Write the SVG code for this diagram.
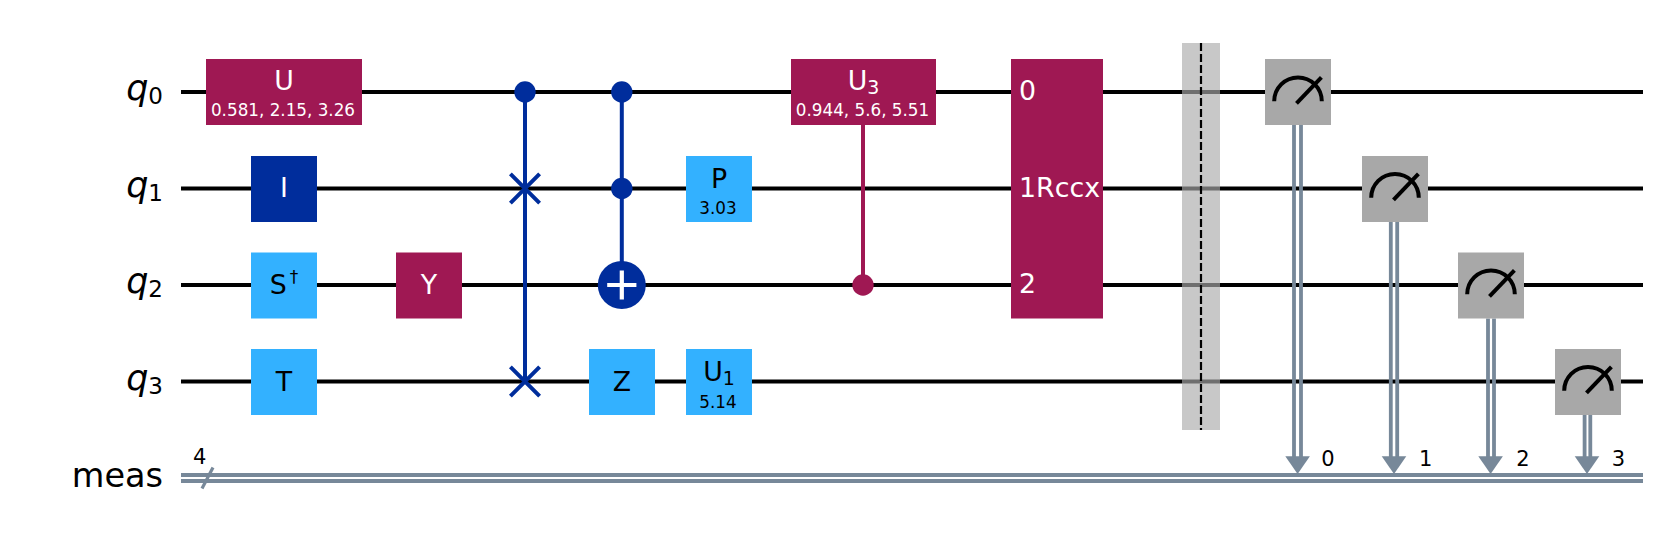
<svg xmlns="http://www.w3.org/2000/svg" width="1666" height="551" viewBox="0 0 1666 551">
<style>
text{font-family:"DejaVu Sans",sans-serif;fill:#000}
text.w{fill:#fff}
.g{font-size:26.8px;text-anchor:middle}
.p{font-size:16.8px;text-anchor:middle}
.s{text-anchor:start}
.r{font-size:33.5px;text-anchor:end}
.rq{font-size:35px;text-anchor:end}
.c{font-size:21px;text-anchor:middle}
.sub{font-size:19px}
.rsub{font-size:23px}
.q{font-style:italic}
.qw{stroke:#000;stroke-width:4.2;fill:none}
.cw{stroke:#778899;stroke-width:3.8;fill:none}
.pur{fill:#9f1853}.blu{fill:#002d9c}.sky{fill:#33b1ff}.gry{fill:#a8a8a8}
.lb{stroke:#002d9c;stroke-width:4;fill:none}
.lp{stroke:#9f1853;stroke-width:4;fill:none}
.m{fill:none;stroke:#000;stroke-width:4}
</style>
<defs>
<g id="meter"><path class="m" d="M-23.8 9.2A23.8 23.8 0 0 1 23.8 9.2"/><path class="m" d="M-1.5 11.4L23.4-14.6"/></g>
<path id="down" d="M-12.3 -17.8H12.3L0 0Z" fill="#778899"/>
<path id="x" class="lb" d="M-14.6-14.6L14.6 14.6M-14.6 14.6L14.6-14.6"/>
</defs>
<rect width="1666" height="551" fill="#fff"/>
<g id="connectors">
<path class="qw" d="M181 92H1643M181 188.5H1643M181 285H1643M181 381.5H1643"/>
<path class="cw" d="M181 475H1643M181 481H1643"/>
<path d="M202 488.5L213 467.5" stroke="#778899" stroke-width="3.2" fill="none"/>
<path class="lb" d="M525 92V381.5M621.8 92V285"/>
<path class="lp" d="M863 92V285"/>
<path class="cw" d="M1294 125V458M1301 125V458M1390.8 222V458M1397.2 222V458M1488 318.5V458M1494 318.5V458M1584.6 415V458M1590.3 415V458"/>
<use href="#down" x="1297.6" y="474"/>
<use href="#down" x="1394" y="474"/>
<use href="#down" x="1490.6" y="474"/>
<use href="#down" x="1587" y="474"/>
</g>
<g id="label-q0"><text class="rq" x="163" y="100"><tspan class="q">q</tspan><tspan class="rsub" dy="4">0</tspan></text></g>
<g id="label-q1"><text class="rq" x="163" y="196.5"><tspan class="q">q</tspan><tspan class="rsub" dy="4">1</tspan></text></g>
<g id="label-q2"><text class="rq" x="163" y="293"><tspan class="q">q</tspan><tspan class="rsub" dy="4">2</tspan></text></g>
<g id="label-q3"><text class="rq" x="163" y="389.5"><tspan class="q">q</tspan><tspan class="rsub" dy="4">3</tspan></text></g>
<g id="label-meas"><text class="r" x="163" y="487">meas</text><text class="c" x="199.6" y="463.5">4</text></g>
<g id="gate-u"><rect class="pur" x="206" y="59" width="156" height="66"/><text class="g w" x="284" y="89.6">U</text><text class="p w" x="283" y="116">0.581, 2.15, 3.26</text></g>
<g id="gate-i"><rect class="blu" x="251" y="156" width="66" height="66"/><text class="g w" x="284" y="197">I</text></g>
<g id="gate-sdg"><rect class="sky" x="251" y="252.5" width="66" height="66"/><text class="g" x="284" y="294">S<tspan dx="3" dy="-11" style="font-size:17px">†</tspan></text></g>
<g id="gate-t"><rect class="sky" x="251" y="349" width="66" height="66"/><text class="g" x="284" y="391">T</text></g>
<g id="gate-y"><rect class="pur" x="396" y="252.5" width="66" height="66"/><text class="g w" x="429" y="293.5">Y</text></g>
<g id="swap"><use href="#x" x="525" y="188.5"/><use href="#x" x="525" y="381.5"/><circle cx="525" cy="92" r="10.7" class="blu"/></g>
<g id="ccx"><circle cx="621.8" cy="92" r="10.7" class="blu"/><circle cx="621.8" cy="188.5" r="10.7" class="blu"/><circle cx="621.8" cy="285" r="24" class="blu"/><path d="M607.2 285H636.4M621.8 270.4V299.6" stroke="#fff" stroke-width="4.2" fill="none"/></g>
<g id="gate-z"><rect class="sky" x="589" y="349" width="66" height="66"/><text class="g" x="622" y="390.5">Z</text></g>
<g id="gate-p"><rect class="sky" x="686" y="156" width="66" height="66"/><text class="g" x="719" y="187.5">P</text><text class="p" x="718" y="214">3.03</text></g>
<g id="gate-u1"><rect class="sky" x="686" y="349" width="66" height="66"/><text class="g" x="719" y="381">U<tspan class="sub" dy="4">1</tspan></text><text class="p" x="718" y="407.5">5.14</text></g>
<g id="gate-u3"><rect class="pur" x="791" y="59" width="145" height="66"/><text class="g w" x="863.6" y="89.6">U<tspan class="sub w" dy="4">3</tspan></text><text class="p w" x="862.5" y="116">0.944, 5.6, 5.51</text><circle cx="863" cy="285" r="10.7" class="pur"/></g>
<g id="gate-rccx"><rect class="pur" x="1011" y="59" width="92" height="259.5"/><text class="g w s" x="1019" y="100">0</text><text class="g w s" x="1019" y="197">1Rccx</text><text class="g w s" x="1019" y="293">2</text></g>
<g id="barrier"><rect x="1182" y="43" width="38" height="387" fill="#ababab" fill-opacity=".65"/><path d="M1201 43V430" stroke="#000" stroke-width="2.2" stroke-dasharray="8 3" fill="none"/></g>
<g id="measure-0"><rect class="gry" x="1265" y="59" width="66" height="66"/><use href="#meter" x="1298" y="92"/><text class="c" x="1328" y="465.5">0</text></g>
<g id="measure-1"><rect class="gry" x="1362" y="156" width="66" height="66"/><use href="#meter" x="1395" y="188.5"/><text class="c" x="1425.6" y="465.5">1</text></g>
<g id="measure-2"><rect class="gry" x="1458" y="252.5" width="66" height="66"/><use href="#meter" x="1491" y="285"/><text class="c" x="1523" y="465.5">2</text></g>
<g id="measure-3"><rect class="gry" x="1555" y="349" width="66" height="66"/><use href="#meter" x="1588" y="381.5"/><text class="c" x="1618.5" y="465.5">3</text></g>
</svg>
